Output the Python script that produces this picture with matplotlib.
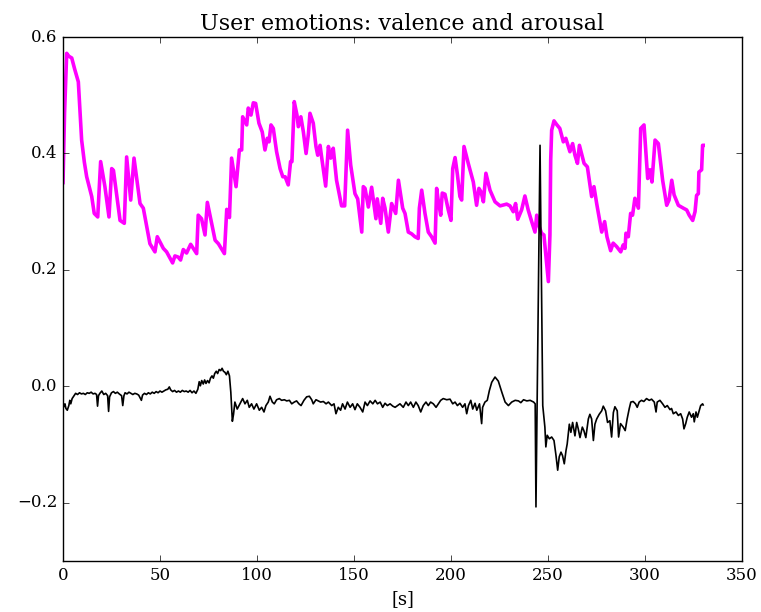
import matplotlib
matplotlib.use("Agg")
import matplotlib.pyplot as plt

plt.style.use("classic")
plt.rcParams["font.family"] = ["DejaVu Serif"]

title = "User emotions: valence and arousal"
x_label = "[s]"
x_ticks = [0, 50, 100, 150, 200, 250, 300, 350]
y_ticks = [-0.2, 0.0, 0.2, 0.4, 0.6]

# Valence over time
valence_t = [
    0.0, 0.8, 1.9, 3.0, 4.5, 6.0, 7.9, 9.6, 11.0, 12.2, 14.8, 16.1, 17.9, 19.4,
    21.6, 23.7, 25.1, 26.0, 29.4, 31.6, 32.8, 34.9, 36.6, 39.7, 41.4, 44.8, 47.4,
    48.6, 51.7, 53.4, 56.5, 57.7, 59.4, 60.6, 62.0, 63.7, 65.8, 68.9, 69.7, 71.4,
    73.2, 74.4, 78.4, 80.1, 83.2, 84.4, 85.8, 86.9, 89.2, 90.9, 92.1, 92.6, 94.7,
    95.5, 96.9, 98.1, 99.3, 101.0, 102.7, 104.1, 105.3, 106.2, 107.2, 108.4,
    110.1, 111.9, 113.3, 114.5, 116.1, 117.3, 118.0, 119.2, 120.6, 121.3, 122.6,
    123.9, 125.3, 126.5, 127.3, 129.0, 130.4, 131.3, 132.5, 133.3, 135.4, 136.8,
    138.0, 139.3, 141.0, 143.6, 145.2, 146.7, 148.3, 150.5, 151.9, 154.0, 154.8,
    155.7, 157.4, 159.1, 161.3, 162.0, 163.8, 164.8, 166.0, 167.7, 169.4, 171.5,
    172.9, 175.1, 176.3, 178.0, 179.7, 181.4, 183.1, 183.7, 184.9, 186.6, 188.3,
    190.0, 191.8, 192.6, 193.4, 194.7, 195.5, 196.9, 198.6, 200.0, 200.9, 202.1,
    203.3, 204.6, 205.5, 206.7, 208.9, 211.5, 213.2, 214.4, 215.5, 216.7, 218.0,
    220.1, 222.7, 225.3, 228.7, 230.4, 232.1, 233.3, 234.4, 236.4, 238.1, 239.8,
    241.6, 243.3, 244.2, 245.5, 246.7, 247.9, 250.2, 251.0, 251.4, 251.9, 253.1,
    254.4, 256.1, 257.9, 259.2, 261.3, 262.7, 263.9, 265.2, 266.2, 268.6, 270.3,
    272.5, 273.7, 275.1, 277.7, 279.2, 280.4, 282.3, 283.6, 285.4, 287.5, 288.8,
    289.7, 290.2, 291.4, 292.6, 293.6, 294.8, 296.6, 297.8, 299.5, 301.4, 302.6,
    303.6, 305.2, 306.9, 309.1, 311.2, 312.4, 313.8, 315.0, 317.2, 319.8, 321.5,
    322.8, 324.6, 325.8, 326.6, 327.5, 327.8, 329.2, 329.7, 330.0,
]
valence_v = [
    0.350, 0.470, 0.572, 0.567, 0.564, 0.545, 0.523, 0.423, 0.385, 0.360, 0.326,
    0.297, 0.291, 0.386, 0.343, 0.291, 0.374, 0.371, 0.285, 0.280, 0.394, 0.320,
    0.392, 0.314, 0.306, 0.245, 0.231, 0.257, 0.237, 0.231, 0.212, 0.224, 0.222,
    0.217, 0.235, 0.229, 0.244, 0.228, 0.294, 0.288, 0.260, 0.316, 0.251, 0.245,
    0.228, 0.304, 0.290, 0.392, 0.343, 0.406, 0.406, 0.463, 0.449, 0.478, 0.466,
    0.487, 0.486, 0.452, 0.437, 0.406, 0.426, 0.420, 0.449, 0.443, 0.403, 0.374,
    0.360, 0.360, 0.346, 0.386, 0.386, 0.489, 0.466, 0.446, 0.463, 0.437, 0.400,
    0.434, 0.469, 0.452, 0.412, 0.397, 0.414, 0.394, 0.344, 0.412, 0.392, 0.409,
    0.354, 0.310, 0.310, 0.440, 0.380, 0.331, 0.322, 0.265, 0.343, 0.340, 0.308,
    0.342, 0.288, 0.322, 0.280, 0.323, 0.306, 0.265, 0.314, 0.297, 0.354, 0.306,
    0.297, 0.265, 0.262, 0.257, 0.254, 0.306, 0.337, 0.297, 0.265, 0.257, 0.246,
    0.340, 0.320, 0.294, 0.332, 0.330, 0.303, 0.285, 0.374, 0.393, 0.364, 0.326,
    0.320, 0.412, 0.383, 0.351, 0.311, 0.340, 0.334, 0.317, 0.366, 0.337, 0.317,
    0.310, 0.313, 0.310, 0.300, 0.314, 0.287, 0.303, 0.327, 0.303, 0.283, 0.265,
    0.294, 0.274, 0.263, 0.260, 0.180, 0.260, 0.389, 0.440, 0.456, 0.450, 0.443,
    0.420, 0.426, 0.403, 0.417, 0.397, 0.383, 0.414, 0.383, 0.377, 0.326, 0.343,
    0.314, 0.265, 0.283, 0.257, 0.233, 0.246, 0.240, 0.231, 0.243, 0.237, 0.263,
    0.257, 0.297, 0.294, 0.323, 0.306, 0.443, 0.449, 0.357, 0.372, 0.351, 0.423,
    0.417, 0.354, 0.311, 0.320, 0.354, 0.329, 0.311, 0.306, 0.303, 0.294, 0.285,
    0.300, 0.328, 0.331, 0.368, 0.372, 0.414, 0.414,
]

# Arousal over time
arousal_t = [
    0.0, 0.5, 1.0, 1.5, 2.2, 3.0, 3.5, 4.0, 4.7, 5.5, 6.5, 7.5, 8.5, 9.5, 10.5,
    11.5, 12.5, 13.5, 14.5, 15.5, 16.5, 17.3, 17.8, 18.3, 19.0, 20.0, 21.0, 22.0,
    23.0, 23.5, 24.0, 25.0, 26.0, 27.0, 28.0, 29.0, 30.2, 30.8, 31.4, 32.0, 33.0,
    34.0, 35.0, 36.0, 37.0, 38.0, 39.0, 40.4, 41.0, 42.0, 43.0, 44.0, 45.0, 46.0,
    47.0, 48.0, 49.0, 50.0, 51.0, 52.0, 53.0, 54.0, 54.8, 55.5, 56.5, 57.5, 58.5,
    59.5, 60.5, 61.5, 62.5, 63.5, 64.5, 65.5, 66.5, 67.5, 68.5, 69.5, 70.2, 70.8,
    71.5, 72.3, 73.0, 73.7, 74.5, 75.3, 76.0, 76.8, 77.5, 78.2, 79.0, 79.7, 80.5,
    81.3, 82.0, 82.7, 83.5, 84.2, 85.0, 85.8, 86.5, 87.3, 87.9, 88.6, 89.8, 91.2,
    92.6, 93.8, 95.0, 96.0, 97.2, 98.4, 99.8, 101.2, 102.4, 103.6, 104.6, 105.8,
    106.7, 107.9, 108.9, 110.1, 111.5, 112.7, 114.1, 115.3, 116.7, 117.9, 119.2,
    120.4, 121.6, 122.7, 124.2, 125.6, 127.0, 128.2, 129.0, 130.4, 131.6, 132.8,
    134.2, 135.6, 136.8, 138.5, 139.7, 140.7, 141.9, 143.1, 144.1, 145.4, 146.6,
    148.0, 149.3, 150.5, 151.7, 153.1, 154.5, 155.7, 156.9, 158.3, 159.7, 160.9,
    162.1, 163.5, 164.8, 166.0, 167.2, 168.6, 170.0, 171.2, 172.5, 173.7, 175.4,
    176.8, 178.0, 179.2, 180.6, 181.9, 183.1, 184.4, 185.7, 187.1, 188.3, 189.5,
    190.9, 192.3, 193.5, 194.7, 196.0, 197.8, 199.5, 200.9, 202.1, 203.3, 204.6,
    206.0, 207.2, 208.1, 209.0, 210.2, 211.2, 212.4, 213.3, 214.7, 215.8, 216.3,
    217.5, 218.7, 219.8, 221.0, 222.7, 224.4, 226.2, 227.9, 229.6, 231.3, 233.1,
    234.8, 236.0, 237.4, 239.1, 240.8, 242.6, 243.4, 243.8, 245.9, 247.3, 248.4,
    248.9, 249.6, 250.7, 251.9, 253.1, 254.1, 255.0, 255.8, 256.7, 257.5, 258.4,
    259.3, 259.9, 261.0, 261.8, 262.7, 263.9, 264.8, 265.6, 266.5, 267.7, 268.5,
    269.5, 270.8, 271.6, 272.5, 273.4, 274.2, 275.1, 276.4, 277.7, 278.5, 279.7,
    280.7, 281.9, 282.8, 283.7, 284.5, 285.7, 286.4, 287.4, 288.8, 289.8, 290.8,
    291.9, 292.7, 293.9, 295.1, 296.0, 297.0, 298.2, 299.4, 300.8, 302.2, 303.4,
    304.8, 305.7, 306.3, 307.7, 309.1, 310.3, 311.5, 312.9, 313.7, 314.6, 316.0,
    317.2, 318.4, 319.4, 320.1, 321.0, 321.8, 322.8, 324.0, 324.9, 325.4, 326.3,
    327.0, 328.0, 328.7, 329.7, 330.0,
]
arousal_v = [
    -0.028, -0.035, -0.030, -0.038, -0.041, -0.033, -0.024, -0.030, -0.021,
    -0.017, -0.012, -0.014, -0.011, -0.013, -0.012, -0.014, -0.011, -0.012,
    -0.010, -0.013, -0.012, -0.014, -0.034, -0.016, -0.012, -0.008, -0.014,
    -0.012, -0.016, -0.043, -0.018, -0.011, -0.009, -0.012, -0.010, -0.013,
    -0.016, -0.033, -0.016, -0.011, -0.013, -0.010, -0.012, -0.014, -0.012,
    -0.013, -0.015, -0.024, -0.015, -0.012, -0.014, -0.011, -0.013, -0.010,
    -0.012, -0.009, -0.011, -0.008, -0.010, -0.008, -0.006, -0.005, -0.001,
    -0.006, -0.009, -0.007, -0.010, -0.008, -0.010, -0.007, -0.009, -0.008,
    -0.010, -0.007, -0.011, -0.008, -0.012, -0.005, 0.008, 0.001, 0.010, 0.004,
    0.011, 0.005, 0.010, 0.006, 0.014, 0.018, 0.014, 0.022, 0.026, 0.022, 0.029,
    0.027, 0.031, 0.026, 0.024, 0.020, 0.026, 0.018, -0.010, -0.060, -0.048,
    -0.027, -0.039, -0.030, -0.021, -0.030, -0.024, -0.036, -0.030, -0.039,
    -0.030, -0.041, -0.036, -0.044, -0.033, -0.027, -0.017, -0.027, -0.030,
    -0.023, -0.021, -0.024, -0.023, -0.025, -0.024, -0.030, -0.027, -0.025,
    -0.030, -0.033, -0.024, -0.018, -0.017, -0.023, -0.030, -0.023, -0.025,
    -0.027, -0.026, -0.030, -0.027, -0.033, -0.030, -0.047, -0.036, -0.041,
    -0.030, -0.039, -0.027, -0.036, -0.030, -0.040, -0.030, -0.036, -0.044,
    -0.027, -0.033, -0.025, -0.030, -0.024, -0.030, -0.027, -0.036, -0.029,
    -0.033, -0.030, -0.034, -0.036, -0.033, -0.030, -0.036, -0.027, -0.033,
    -0.027, -0.036, -0.027, -0.033, -0.044, -0.033, -0.027, -0.033, -0.027,
    -0.030, -0.036, -0.030, -0.024, -0.021, -0.023, -0.022, -0.030, -0.027,
    -0.033, -0.029, -0.036, -0.030, -0.047, -0.033, -0.024, -0.039, -0.029,
    -0.041, -0.030, -0.064, -0.036, -0.027, -0.024, -0.007, 0.007, 0.016, 0.009,
    -0.010, -0.027, -0.033, -0.027, -0.024, -0.025, -0.028, -0.023, -0.025,
    -0.024, -0.027, -0.030, -0.207, 0.414, -0.033, -0.070, -0.104, -0.084,
    -0.090, -0.087, -0.093, -0.118, -0.144, -0.121, -0.113, -0.119, -0.133,
    -0.110, -0.099, -0.065, -0.079, -0.062, -0.085, -0.062, -0.073, -0.088,
    -0.070, -0.076, -0.088, -0.056, -0.048, -0.056, -0.093, -0.065, -0.056,
    -0.048, -0.042, -0.034, -0.042, -0.062, -0.059, -0.087, -0.045, -0.035,
    -0.042, -0.087, -0.064, -0.070, -0.076, -0.056, -0.038, -0.027, -0.026,
    -0.030, -0.036, -0.027, -0.024, -0.026, -0.021, -0.024, -0.022, -0.027,
    -0.044, -0.027, -0.024, -0.030, -0.036, -0.033, -0.040, -0.038, -0.047,
    -0.044, -0.050, -0.047, -0.056, -0.073, -0.064, -0.053, -0.044, -0.053,
    -0.047, -0.061, -0.044, -0.053, -0.041, -0.033, -0.030, -0.032,
]

fig = plt.figure(figsize=(7.61, 6.12), dpi=100, facecolor="white")
ax = fig.add_axes([0.0828, 0.0833, 0.8922, 0.8562])

ax.plot(valence_t, valence_v, color="#ff00ff", linewidth=2.6)
ax.plot(arousal_t, arousal_v, color="black", linewidth=1.2)

ax.set_xlim(0, 350)
ax.set_ylim(-0.3, 0.6)
ax.set_xticks(x_ticks)
ax.set_yticks(y_ticks)
ax.set_title(title, fontsize=16)
ax.set_xlabel(x_label, fontsize=13)

fig.savefig("out.png", dpi=100, facecolor="white")
